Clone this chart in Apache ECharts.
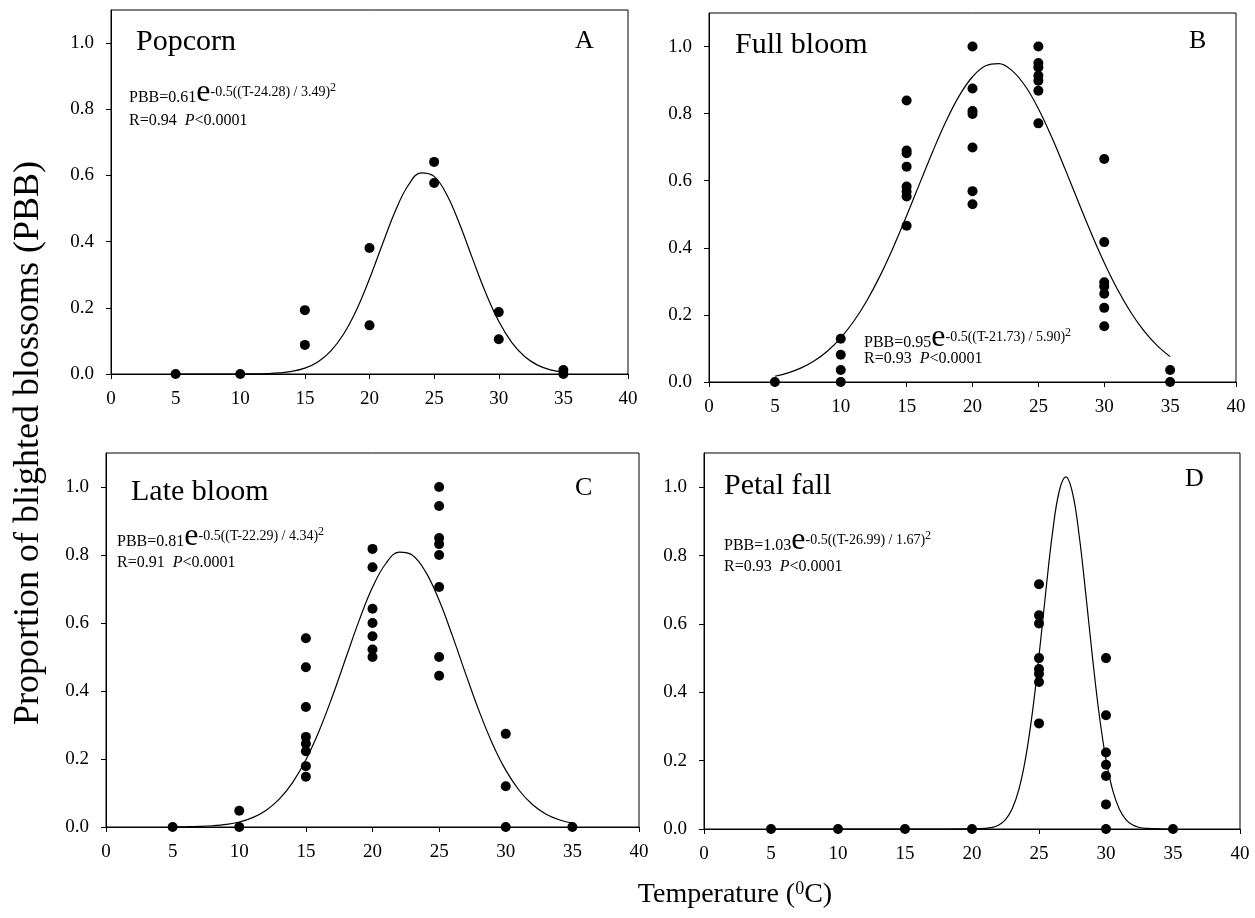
<!DOCTYPE html>
<html>
<head>
<meta charset="utf-8">
<script src="https://cdn.jsdelivr.net/npm/echarts@6/dist/echarts.min.js"></script>
<style>
  html, body { margin: 0; padding: 0; background: #fff; }
  #chart { width: 1255px; height: 918px; }
</style>
</head>
<body>
<div id="chart"></div>
<script>
// scatter points [temperature, PBB]
var popcornPts = [[5,0],[10,0],[15,0.193],[15,0.088],[20,0.381],[20,0.147],[25,0.641],[25,0.577],[30,0.187],[30,0.105],[35,0.012],[35,0]];
var fullBloomPts = [[5,0],[10,0.129],[10,0.081],[10,0.036],[10,0],
    [15,0.839],[15,0.690],[15,0.682],[15,0.642],[15,0.583],[15,0.568],[15,0.553],[15,0.466],
    [20,1.0],[20,0.875],[20,0.808],[20,0.799],[20,0.699],[20,0.569],[20,0.530],
    [25,1.0],[25,0.951],[25,0.938],[25,0.913],[25,0.898],[25,0.868],[25,0.771],
    [30,0.665],[30,0.417],[30,0.297],[30,0.285],[30,0.263],[30,0.221],[30,0.166],[35,0.036],[35,0]];
var lateBloomPts = [[5,0],[10,0.048],[10,0],
    [15,0.555],[15,0.470],[15,0.353],[15,0.265],[15,0.245],[15,0.223],[15,0.179],[15,0.148],
    [20,0.818],[20,0.764],[20,0.642],[20,0.600],[20,0.561],[20,0.522],[20,0.500],
    [25,1.0],[25,0.944],[25,0.850],[25,0.832],[25,0.800],[25,0.706],[25,0.500],[25,0.445],
    [30,0.274],[30,0.120],[30,0],[35,0]];
var petalFallPts = [[5,0],[10,0],[15,0],[20,0],
    [25,0.716],[25,0.625],[25,0.601],[25,0.500],[25,0.468],[25,0.454],[25,0.430],[25,0.309],
    [30,0.500],[30,0.333],[30,0.224],[30,0.188],[30,0.155],[30,0.072],[30,0],[35,0]];

// fitted curves
var curveT = [5,6,7,8,9,10,11,12,13,14,15,16,17,18,19,20,21,22,23,24,25,26,27,28,29,30,31,32,33,34,35];
var popcornCurve = [0,0,0,0,0,0.0001,0.0004,0.0013,0.0033,0.0080,0.0178,0.0366,0.0693,0.1208,0.1942,0.2876,0.3922,0.4928,0.5703,0.6080,0.5971,0.5403,0.4502,0.3456,0.2444,0.1592,0.0955,0.0528,0.0269,0.0126,0.0055];
var fullBloomCurve = [0.0171,0.0272,0.0421,0.0634,0.0926,0.1317,0.1818,0.2439,0.3179,0.4027,0.4956,0.5928,0.6889,0.7779,0.8536,0.9100,0.9427,0.9490,0.9282,0.8823,0.8147,0.7311,0.6375,0.5401,0.4447,0.3557,0.2765,0.2088,0.1532,0.1093,0.0757];
var lateBloomCurve = [0.0003,0.0007,0.0016,0.0036,0.0075,0.0147,0.0275,0.0487,0.0820,0.1307,0.1976,0.2834,0.3853,0.4969,0.6077,0.7048,0.7750,0.8082,0.7992,0.7495,0.6666,0.5621,0.4495,0.3408,0.2451,0.1672,0.1081,0.0663,0.0385,0.0213,0.0111];
var petalCurveT = [5,10,15,20,21,21.5,22,22.5,23,23.5,24,24.5,25,25.5,26,26.5,27,27.5,28,28.5,29,29.5,30,30.5,31,31.5,32,32.5,33,34,35];
var petalFallCurve = [0,0,0,0.0002,0.0017,0.0046,0.0119,0.0277,0.0593,0.1160,0.2074,0.3389,0.5064,0.6919,0.8641,0.9866,1.0300,0.9831,0.8579,0.6843,0.4992,0.3329,0.2030,0.1131,0.0577,0.0269,0.0114,0.0045,0.0016,0.0001,0];

var yTicks = [0, 0.2, 0.4, 0.6, 0.8, 1.0];
var stageNames = ['Popcorn', 'Full bloom', 'Late bloom', 'Petal fall'];
var panelLetters = ['A', 'B', 'C', 'D'];
var fitAmp = ['0.61', '0.95', '0.81', '1.03'];
var fitMu = ['24.28', '21.73', '22.29', '26.99'];
var fitSigma = ['3.49', '5.90', '4.34', '1.67'];
var fitR = ['0.94', '0.93', '0.91', '0.93'];

var SERIF = 'Liberation Serif';

function pairs(xs, ys) {
    return xs.map(function (x, i) { return [x, ys[i]]; });
}

var grids = [
    { left: 111, top: 10, width: 517, height: 364 },
    { left: 709, top: 13, width: 527, height: 369 },
    { left: 106, top: 453, width: 533, height: 374 },
    { left: 704, top: 453, width: 536, height: 376 }
];
grids.forEach(function (g) {
    g.show = true;
    g.borderColor = '#000';
    g.borderWidth = 1;
    g.backgroundColor = 'transparent';
});

var axisLine = { show: true, lineStyle: { color: '#000', width: 1 } };

var xAxes = grids.map(function (g, i) {
    return {
        type: 'value', gridIndex: i, min: 0, max: 40, interval: 5,
        axisLine: axisLine,
        axisTick: { show: true, length: 5, lineStyle: { color: '#000' } },
        axisLabel: { color: '#000', fontFamily: SERIF, fontSize: 19, margin: 16 },
        splitLine: { show: false }
    };
});
var yAxes = grids.map(function (g, i) {
    return {
        type: 'value', gridIndex: i, min: 0, max: 1.1,
        axisLine: axisLine,
        axisTick: { show: true, length: 5, customValues: yTicks, lineStyle: { color: '#000' } },
        axisLabel: {
            color: '#000', fontFamily: SERIF, fontSize: 19, margin: 17,
            customValues: yTicks,
            formatter: function (v) { return v.toFixed(1); }
        },
        splitLine: { show: false }
    };
});

var ptsList = [popcornPts, fullBloomPts, lateBloomPts, petalFallPts];
var curves = [pairs(curveT, popcornCurve), pairs(curveT, fullBloomCurve),
              pairs(curveT, lateBloomCurve), pairs(petalCurveT, petalFallCurve)];

var series = [];
for (var i = 0; i < 4; i++) {
    series.push({
        type: 'line', xAxisIndex: i, yAxisIndex: i, data: curves[i],
        showSymbol: false, smooth: 0.4,
        lineStyle: { color: '#000', width: 1.2 }, silent: true, z: 2
    });
    series.push({
        type: 'scatter', xAxisIndex: i, yAxisIndex: i, data: ptsList[i],
        symbolSize: 10, itemStyle: { color: '#000', opacity: 1 }, z: 3
    });
}

// text layout: [title x, title baseline, letter x, letter baseline, eq x, eq top, line-2 height]
var textPos = [
    [136, 52, 575, 50, 129, 76, 23],
    [735, 55, 1189, 50, 864, 321, 16],
    [131, 502, 575, 497, 117, 520, 21],
    [724, 496, 1185, 488, 724, 524, 21]
];

var eqRich = {
    n: { fontFamily: SERIF, fontSize: 16, height: 16, lineHeight: 30, verticalAlign: 'bottom', color: '#000' },
    e: { fontFamily: SERIF, fontSize: 32, height: 27, lineHeight: 30, verticalAlign: 'bottom', color: '#000' },
    s: { fontFamily: SERIF, fontSize: 14, height: 14, lineHeight: 30, verticalAlign: 'bottom', padding: [0, 0, 7, 0], color: '#000' },
    t: { fontFamily: SERIF, fontSize: 12, height: 12, lineHeight: 30, verticalAlign: 'bottom', padding: [0, 0, 12, 0], color: '#000' }
};

var graphics = [];
textPos.forEach(function (p, i) {
    graphics.push({
        type: 'text', x: p[0], y: p[1] - 10, silent: true,
        style: { text: stageNames[i], fontFamily: SERIF, fontSize: 30, fill: '#000', align: 'left', verticalAlign: 'middle' }
    });
    graphics.push({
        type: 'text', x: p[2], y: p[3] - 9, silent: true,
        style: { text: panelLetters[i], fontFamily: SERIF, fontSize: 26, fill: '#000', align: 'left', verticalAlign: 'middle' }
    });
    var l2 = p[6];
    var rich = Object.assign({}, eqRich, {
        r: { fontFamily: SERIF, fontSize: 16, height: 16, lineHeight: l2, verticalAlign: 'bottom', color: '#000' },
        p: { fontFamily: SERIF, fontSize: 16, fontStyle: 'italic', height: 16, lineHeight: l2, verticalAlign: 'bottom', color: '#000' }
    });
    graphics.push({
        type: 'text', x: p[4], y: p[5], silent: true,
        style: {
            text: '{n|PBB=' + fitAmp[i] + '}{e|e}{s|-0.5((T-' + fitMu[i] + ') / ' + fitSigma[i] + ')}{t|2}\n' +
                  '{r|R=' + fitR[i] + '  }{p|P}{r|<0.0001}',
            rich: rich, align: 'left', verticalAlign: 'top', fill: '#000'
        }
    });
});

// shared axis titles
graphics.push({
    type: 'text', x: 29, y: 443, rotation: Math.PI / 2, silent: true,
    style: { text: 'Proportion of blighted blossoms (PBB)', fontFamily: SERIF, fontSize: 36, fill: '#000', align: 'center', verticalAlign: 'middle' }
});
graphics.push({
    type: 'text', x: 735, y: 893, silent: true,
    style: {
        text: '{a|Temperature (}{s|0}{a|C)}',
        rich: {
            a: { fontFamily: SERIF, fontSize: 28, height: 28, lineHeight: 32, verticalAlign: 'bottom', color: '#000' },
            s: { fontFamily: SERIF, fontSize: 18, height: 18, lineHeight: 32, verticalAlign: 'bottom', padding: [0, 0, 11, 0], color: '#000' }
        },
        align: 'center', verticalAlign: 'middle'
    }
});

var myChart = echarts.init(document.getElementById('chart'), null, { renderer: 'canvas' });
myChart.setOption({
    animation: false,
    backgroundColor: '#fff',
    grid: grids,
    xAxis: xAxes,
    yAxis: yAxes,
    series: series,
    graphic: graphics
});
</script>
</body>
</html>
